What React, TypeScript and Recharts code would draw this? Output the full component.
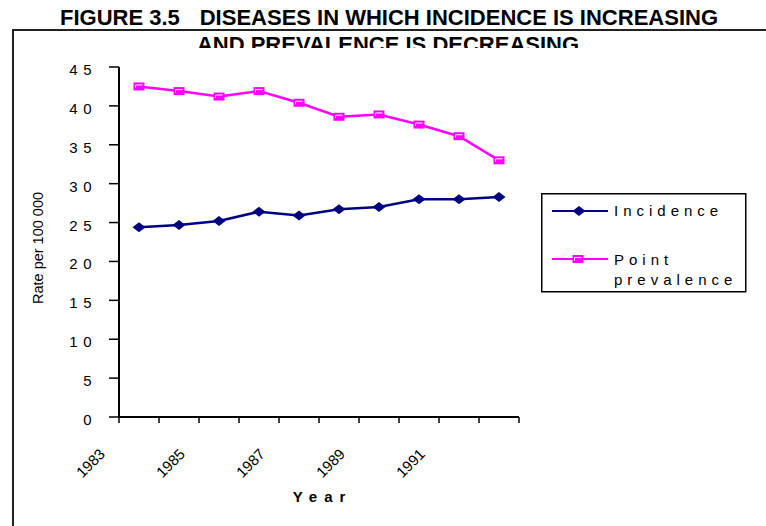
import React from 'react';
import { LineChart, Line, XAxis, YAxis, Legend } from 'recharts';

// Rate per 100 000
const years = ['1983', '1984', '1985', '1986', '1987', '1988', '1989', '1990', '1991', '1992'];
const incidence = [24.4, 24.7, 25.2, 26.4, 25.9, 26.7, 27.0, 28.0, 28.0, 28.3];
const prevalence = [42.5, 41.9, 41.2, 41.9, 40.4, 38.6, 38.9, 37.6, 36.1, 33.0];
const yTicks = [0, 5, 10, 15, 20, 25, 30, 35, 40, 45];
const labelledYears = ['1983', '1985', '1987', '1989', '1991'];

const data = years.map((year, i) => ({ year, incidence: incidence[i], prevalence: prevalence[i] }));

const FONT = '"Liberation Sans", Arial, sans-serif';
const NAVY = '#000080';
const MAGENTA = '#FF00FF';
const PLOT_W = 400;
const BAND = PLOT_W / years.length;

const Diamond = ({ cx, cy }: any) => (
  <path d={`M${cx},${cy - 5} L${cx + 6.5},${cy} L${cx},${cy + 5} L${cx - 6.5},${cy} Z`} fill={NAVY} />
);

const Square = ({ cx, cy }: any) => (
  <g>
    <rect x={cx - 5.5} y={cy - 4} width={11} height={8} fill={MAGENTA} />
    <path d={`M${cx - 3.5},${cy + 1.5} V${cy - 1.5} H${cx + 3.5}`} stroke="#fff" strokeWidth={1} fill="none" />
  </g>
);

const YearTick = ({ x, y, payload, index }: any) => {
  const lx = x - 33;
  const ly = y + 38;
  return (
    <g>
      <line x1={x - BAND / 2} y1={y} x2={x - BAND / 2} y2={y + 6} stroke="#000" strokeWidth={1.5} />
      {index === years.length - 1 && (
        <line x1={x + BAND / 2} y1={y} x2={x + BAND / 2} y2={y + 6} stroke="#000" strokeWidth={1.5} />
      )}
      {labelledYears.includes(payload.value) && (
        <text x={lx} y={ly} textAnchor="end" transform={`rotate(-45 ${lx} ${ly})`} fontSize={15} fill="#000">
          {payload.value}
        </text>
      )}
    </g>
  );
};

const RateTick = ({ x, y, payload }: any) => (
  <text x={x} y={y} dy={8} textAnchor="end" fontSize={15} letterSpacing={5.5} fill="#000">
    {payload.value}
  </text>
);

const LegendBox = () => (
  <svg width={206} height={100} style={{ fontFamily: FONT, display: 'block' }}>
    <rect x={0.75} y={0.75} width={204} height={98} fill="#fff" stroke="#000" strokeWidth={1.5} />
    <line x1={11} y1={18} x2={67} y2={18} stroke={NAVY} strokeWidth={2} />
    <Diamond cx={38} cy={18} />
    <text x={73} y={23} fontSize={15} letterSpacing={5}>Incidence</text>
    <line x1={11} y1={66} x2={67} y2={66} stroke={MAGENTA} strokeWidth={2} />
    <Square cx={37} cy={66} />
    <text x={73} y={72} fontSize={15} letterSpacing={5}>Point</text>
    <text x={73} y={92} fontSize={15} letterSpacing={5}>prevalence</text>
  </svg>
);

export default function App() {
  return (
    <div style={{ position: 'absolute', left: 0, top: 0, width: 766, height: 526, overflow: 'hidden', background: '#fff', fontFamily: FONT }}>
      <div style={{ position: 'absolute', left: 12, top: 29, right: -10, bottom: -10, borderTop: '2px solid #222', borderLeft: '2px solid #222' }} />
      <svg width={766} height={60} style={{ position: 'absolute', left: 0, top: 0 }}>
        <defs>
          <clipPath id="titleClip">
            <rect x={0} y={0} width={766} height={48} />
          </clipPath>
        </defs>
        <g fontSize={22} fontWeight="bold" fill="#000" fontFamily={FONT}>
          <text x={60} y={25}>FIGURE 3.5</text>
          <text x={718} y={25} textAnchor="end">DISEASES IN WHICH INCIDENCE IS INCREASING</text>
          <text x={388} y={52} textAnchor="middle" clipPath="url(#titleClip)">AND PREVALENCE IS DECREASING</text>
        </g>
      </svg>
      <div style={{ position: 'absolute', left: 0, top: 0 }}>
        <LineChart width={766} height={526} data={data} margin={{ top: 67, right: 247, bottom: 0, left: 0 }}>
          <XAxis
            dataKey="year"
            scale="band"
            interval={0}
            height={109}
            tickSize={0}
            tickMargin={0}
            tickLine={false}
            axisLine={{ stroke: '#000', strokeWidth: 2 }}
            tick={<YearTick />}
            label={({ viewBox }: any) => (
              <text x={viewBox.x + viewBox.width / 2 + 3.5} y={502} textAnchor="middle" fontSize={15} fontWeight="bold" letterSpacing={7} fill="#000">
                Year
              </text>
            )}
          />
          <YAxis
            domain={[0, 45]}
            ticks={yTicks}
            interval={0}
            width={119}
            tickSize={10}
            tickMargin={12}
            tickLine={{ stroke: '#000', strokeWidth: 1.5 }}
            axisLine={{ stroke: '#000', strokeWidth: 2 }}
            tick={<RateTick />}
            label={() => (
              <text x={38} y={248} textAnchor="middle" transform="rotate(-90 38 248)" dy={5} fontSize={14.5} fill="#000">
                Rate per 100 000
              </text>
            )}
          />
          <Legend
            layout="horizontal"
            verticalAlign="middle"
            align="center"
            content={() => <LegendBox />}
            wrapperStyle={{ left: 541, top: 193, width: 206, height: 100 }}
          />
          <Line
            dataKey="prevalence"
            name="Point prevalence"
            stroke={MAGENTA}
            strokeWidth={2.5}
            dot={<Square />}
            activeDot={false}
            isAnimationActive={false}
          />
          <Line
            dataKey="incidence"
            name="Incidence"
            stroke={NAVY}
            strokeWidth={2.5}
            dot={<Diamond />}
            activeDot={false}
            isAnimationActive={false}
          />
        </LineChart>
      </div>
    </div>
  );
}
